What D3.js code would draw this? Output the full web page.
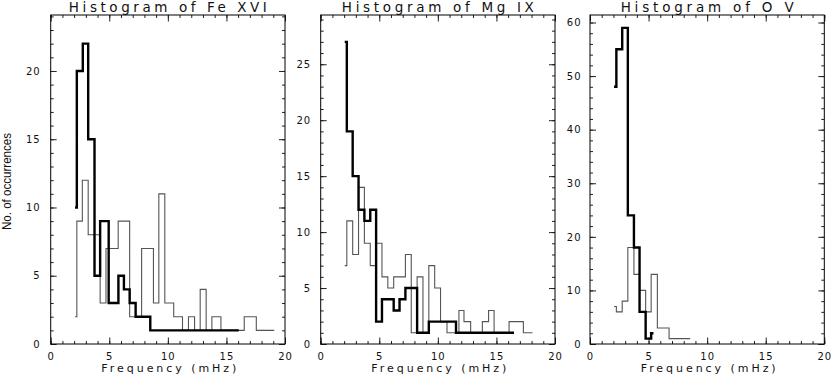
<!DOCTYPE html>
<html>
<head>
<meta charset="utf-8">
<script src="https://cdn.jsdelivr.net/npm/d3@7/dist/d3.min.js"></script>
<style>
body{margin:0;background:#fff;}
svg{display:block;}
</style>
</head>
<body>
<svg></svg>
<script>
var WIDTH = 834;
var HEIGHT = 375;

// data (bin edges in mHz, counts per bin)
var titles = ['Histogram of Fe XVI', 'Histogram of Mg IX', 'Histogram of O V'];
var xTicks = [0, 5, 10, 15, 20];
var yMax = [24.1, 29.4, 61.4];
var yTicks = [[0, 5, 10, 15, 20], [0, 5, 10, 15, 20, 25], [0, 10, 20, 30, 40, 50, 60]];

var feThickEdges = [2.08, 2.23, 2.74, 3.2, 3.74, 4.22, 4.95, 5.78, 6.25, 6.74, 7.25, 8.5, 16.05];
var feThickCounts = [10, 20, 22, 15, 5, 9, 3, 5, 4, 3, 2, 1];
var feThinEdges = [2.08, 2.23, 2.7, 3.2, 4.22, 4.72, 5.76, 6.74, 7.76, 8.77, 9.23, 9.74, 10.5, 11.25, 11.76, 12.28, 12.76, 13.27, 13.76, 14.53, 16.52, 17.55, 19.08];
var feThinCounts = [2, 9, 12, 8, 3, 7, 9, 2, 7, 3, 11, 3, 2, 1, 2, 1, 4, 1, 2, 1, 2, 1];

var mgThickEdges = [2.05, 2.23, 2.73, 3.23, 3.73, 4.23, 4.73, 5.23, 6.23, 6.73, 7.23, 8.23, 9.23, 11.55, 16.5];
var mgThickCounts = [27, 19, 15, 12, 11, 12, 2, 4, 3, 4, 5, 1, 2, 1];
var mgThinEdges = [2.05, 2.23, 2.73, 3.23, 3.73, 4.23, 4.73, 5.23, 5.73, 6.23, 7.23, 7.73, 8.23, 8.73, 9.23, 9.73, 10.23, 10.78, 11.8, 12.23, 12.8, 13.8, 14.33, 14.8, 16.08, 17.3, 18.08];
var mgThinCounts = [7, 11, 8, 14, 9, 7, 9, 6, 5, 6, 8, 1, 6, 1, 7, 5, 2, 1, 3, 2, 1, 2, 3, 1, 2, 1];

var oThickEdges = [2.05, 2.25, 2.75, 3.23, 3.75, 4.23, 4.75, 5.22, 5.42];
var oThickCounts = [48, 55, 59, 24, 18, 6, 1, 2];
var oThinEdges = [2.05, 2.25, 2.75, 3.23, 3.75, 4.23, 4.75, 5.22, 5.75, 6.75, 8.55];
var oThinCounts = [7, 6, 8, 18, 13, 10, 6, 13, 3, 1];

var series = [
  {thick: [feThickEdges, feThickCounts], thin: [feThinEdges, feThinCounts]},
  {thick: [mgThickEdges, mgThickCounts], thin: [mgThinEdges, mgThinCounts]},
  {thick: [oThickEdges, oThickCounts], thin: [oThinEdges, oThinCounts]}
];

// layout
var lefts = [50.7, 320.7, 590];
var plotW = 234.3;
var plotTop = 15, plotBottom = 344;
var yMinorStep = [1, 1, 2];
var yLabelPad = [10, 9.5, 8.5];
var titleLen = [198, 192, 173];

var svg = d3.select('svg').attr('width', WIDTH).attr('height', HEIGHT);

function stepPoints(edges, counts){
  var pts = counts.map(function(c, i){ return [edges[i], c]; });
  pts.push([edges[edges.length - 1], counts[counts.length - 1]]);
  return pts;
}

function styleAxis(g){
  g.select('.domain').remove();
  g.selectAll('line').attr('stroke', '#222').attr('stroke-width', 1);
  g.selectAll('text')
    .attr('fill', '#111')
    .style('font-family', 'DejaVu Sans')
    .style('font-size', '10px')
    .style('letter-spacing', '1px');
}

titles.forEach(function(title, p){
  var left = lefts[p];
  var xScale = d3.scaleLinear().domain([0, 20]).range([left, left + plotW]);
  var yScale = d3.scaleLinear().domain([0, yMax[p]]).range([plotBottom, plotTop]);
  var g = svg.append('g');

  var xMinor = d3.range(0, 21, 1);
  var yMinor = d3.range(0, yMax[p], yMinorStep[p]);

  // bottom axis with labels
  g.append('g').attr('transform', 'translate(0,' + plotBottom + ')')
    .call(d3.axisBottom(xScale).tickValues(xMinor).tickSize(-3).tickSizeOuter(0).tickFormat(''))
    .call(styleAxis);
  g.append('g').attr('transform', 'translate(0,' + plotBottom + ')')
    .call(d3.axisBottom(xScale).tickValues(xTicks).tickSize(-6.5).tickSizeOuter(0).tickPadding(9).tickFormat(d3.format('d')))
    .call(styleAxis);
  // top axis
  g.append('g').attr('transform', 'translate(0,' + plotTop + ')')
    .call(d3.axisTop(xScale).tickValues(xMinor).tickSize(-3).tickSizeOuter(0).tickFormat(''))
    .call(styleAxis);
  g.append('g').attr('transform', 'translate(0,' + plotTop + ')')
    .call(d3.axisTop(xScale).tickValues(xTicks).tickSize(-6.5).tickSizeOuter(0).tickFormat(''))
    .call(styleAxis);
  // left axis with labels
  g.append('g').attr('transform', 'translate(' + left + ',0)')
    .call(d3.axisLeft(yScale).tickValues(yMinor).tickSize(-3).tickSizeOuter(0).tickFormat(''))
    .call(styleAxis);
  g.append('g').attr('transform', 'translate(' + left + ',0)')
    .call(d3.axisLeft(yScale).tickValues(yTicks[p]).tickSize(-6).tickSizeOuter(0).tickPadding(yLabelPad[p]).tickFormat(d3.format('d')))
    .call(styleAxis);
  // right axis
  g.append('g').attr('transform', 'translate(' + (left + plotW) + ',0)')
    .call(d3.axisRight(yScale).tickValues(yMinor).tickSize(-3).tickSizeOuter(0).tickFormat(''))
    .call(styleAxis);
  g.append('g').attr('transform', 'translate(' + (left + plotW) + ',0)')
    .call(d3.axisRight(yScale).tickValues(yTicks[p]).tickSize(-6).tickSizeOuter(0).tickFormat(''))
    .call(styleAxis);

  // frame
  g.append('rect')
    .attr('x', left).attr('y', plotTop)
    .attr('width', plotW).attr('height', plotBottom - plotTop)
    .attr('fill', 'none').attr('stroke', '#000').attr('stroke-width', 1);

  var line = d3.line()
    .x(function(d){ return xScale(d[0]); })
    .y(function(d){ return yScale(d[1]); })
    .curve(d3.curveStepAfter);

  var s = series[p];
  g.append('path')
    .attr('d', line(stepPoints(s.thin[0], s.thin[1])))
    .attr('fill', 'none').attr('stroke', '#555').attr('stroke-width', 1.1);
  g.append('path')
    .attr('d', line(stepPoints(s.thick[0], s.thick[1])))
    .attr('fill', 'none').attr('stroke', '#000').attr('stroke-width', 2.4);

  // title
  g.append('text')
    .attr('x', left + plotW / 2).attr('y', 11.5)
    .attr('text-anchor', 'middle')
    .attr('textLength', titleLen[p]).attr('lengthAdjust', 'spacing')
    .style('font-family', 'DejaVu Sans').style('font-size', '13.5px')
    .attr('fill', '#111')
    .text(title);

  // x axis title
  g.append('text')
    .attr('x', left + plotW / 2 + 1).attr('y', 371.5)
    .attr('text-anchor', 'middle')
    .attr('textLength', 135).attr('lengthAdjust', 'spacing')
    .style('font-family', 'DejaVu Sans').style('font-size', '11px')
    .attr('fill', '#111')
    .text('Frequency (mHz)');
});

svg.append('text')
  .attr('transform', 'translate(11,181.5) rotate(-90)')
  .attr('text-anchor', 'middle')
  .attr('textLength', 97).attr('lengthAdjust', 'spacingAndGlyphs')
  .style('font-family', 'Liberation Sans').style('font-size', '12px')
  .attr('fill', '#111')
  .text('No. of occurrences');
</script>
</body>
</html>
